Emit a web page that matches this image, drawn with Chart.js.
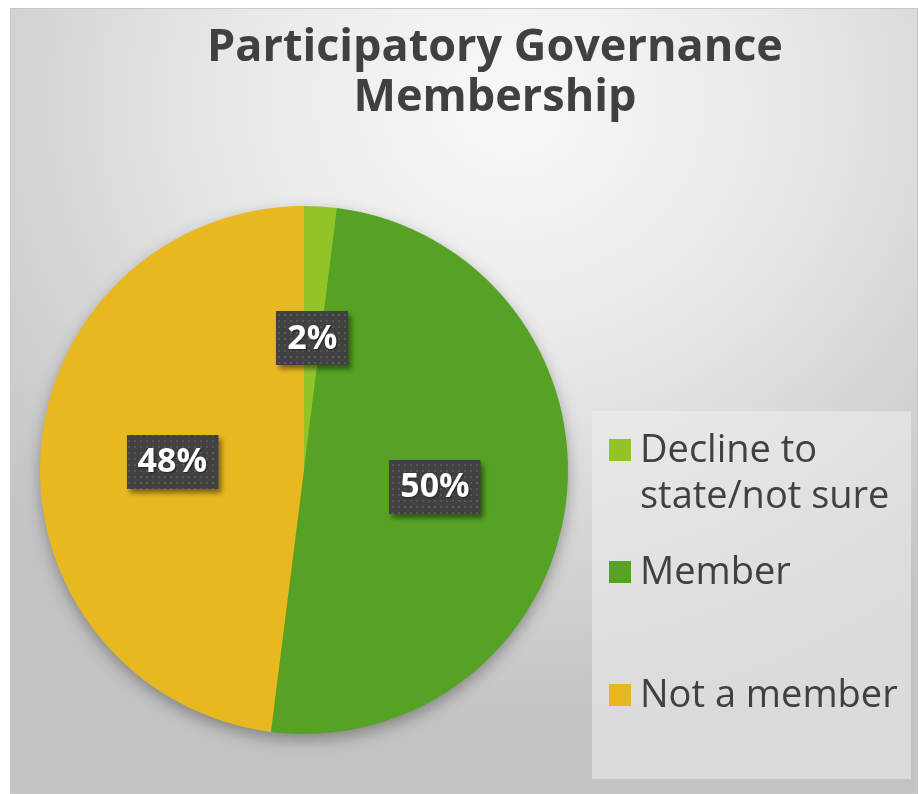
<!DOCTYPE html>
<html>
<head>
<meta charset="utf-8">
<script src="https://cdn.jsdelivr.net/npm/chart.js@4.4.1/dist/chart.umd.min.js"></script>
<style>
  html, body { margin: 0; padding: 0; background: #fff; }
  body { width: 919px; height: 794px; position: relative; overflow: hidden; font-family: "Open Sans", sans-serif; }
  .frame {
    position: absolute; left: 10px; top: 8px; width: 906px; height: 784px;
    border: 1px solid #c9c9c9;
    background: radial-gradient(ellipse 75% 80% at 55% 12%, #f8f8f8 0%, #e9e9e9 40%, #d2d2d2 75%, #c3c3c3 100%);
  }
  #chart { position: absolute; left: 0; top: 0; }
  .title {
    position: absolute; left: 145px; top: 19px; width: 700px;
    text-align: center; color: #404040; font-weight: 700;
    font-size: 45px; line-height: 50px; white-space: nowrap;
  }
  .legend {
    position: absolute; left: 592px; top: 411px; width: 319px; height: 368px;
    background: rgba(238, 238, 238, 0.55);
  }
  .legend-item { position: absolute; left: 17px; color: #404040; font-size: 38px; line-height: 46px; }
  .legend-item i { position: absolute; left: 0; top: 15px; width: 22px; height: 22px; }
  .legend-item span { display: block; margin-left: 31px; white-space: nowrap; }
</style>
</head>
<body>
<div class="frame"></div>
<canvas id="chart" width="919" height="794"></canvas>
<div class="title">Participatory Governance<br>Membership</div>
<div class="legend" id="legend"></div>
<script>
const labels = ["Decline to state/not sure", "Member", "Not a member"];
const legendLines = [["Decline to", "state/not sure"], ["Member"], ["Not a member"]];
const shares = [2, 50, 48];
const colors = ["#93c427", "#55a224", "#e7b820"];

const legendTops = [13, 135, 258];

function buildLegend() {
  const box = document.getElementById("legend");
  box.innerHTML = labels.map((label, i) => `
    <div class="legend-item" style="top:${legendTops[i]}px">
      <i style="background:${colors[i]}"></i>
      <span>${legendLines[i].join("<br>")}</span>
    </div>
  `).join("");
}

function dotPattern(ctx) {
  const tile = document.createElement("canvas");
  tile.width = 6;
  tile.height = 6;
  const t = tile.getContext("2d");
  t.fillStyle = "#414141";
  t.fillRect(0, 0, 6, 6);
  t.fillStyle = "#575757";
  t.fillRect(2, 2, 2, 2);
  return ctx.createPattern(tile, "repeat");
}

const pieShadow = {
  id: "pieShadow",
  beforeDatasetsDraw(chart) {
    const arc = chart.getDatasetMeta(0).data[0];
    if (!arc) return;
    const ctx = chart.ctx;
    ctx.save();
    ctx.shadowColor = "rgba(0, 0, 0, 0.35)";
    ctx.shadowBlur = 16;
    ctx.shadowOffsetY = 6;
    ctx.fillStyle = colors[1];
    ctx.beginPath();
    ctx.arc(arc.x, arc.y, arc.outerRadius - 1, 0, Math.PI * 2);
    ctx.fill();
    ctx.restore();
  }
};

const percentLabels = {
  id: "percentLabels",
  afterDatasetsDraw(chart) {
    const ctx = chart.ctx;
    const pattern = dotPattern(ctx);
    const total = shares.reduce((a, b) => a + b, 0);
    chart.getDatasetMeta(0).data.forEach((arc, i) => {
      const pos = arc.tooltipPosition();
      const text = Math.round(shares[i] / total * 100) + "%";
      ctx.save();
      ctx.font = "bold 34px 'Open Sans'";
      const w = ctx.measureText(text).width + 22;
      const h = 54;
      const x = Math.round(pos.x - w / 2);
      const y = Math.round(pos.y - h / 2);
      ctx.shadowColor = "rgba(0, 0, 0, 0.45)";
      ctx.shadowBlur = 5;
      ctx.shadowOffsetX = 3;
      ctx.shadowOffsetY = 4;
      ctx.fillStyle = pattern;
      ctx.fillRect(x, y, w, h);
      ctx.shadowColor = "rgba(0, 0, 0, 0.5)";
      ctx.shadowBlur = 2;
      ctx.shadowOffsetX = 1;
      ctx.shadowOffsetY = 1;
      ctx.fillStyle = "#ffffff";
      ctx.textAlign = "center";
      ctx.textBaseline = "middle";
      ctx.fillText(text, pos.x, pos.y + 1);
      ctx.restore();
    });
  }
};

buildLegend();

new Chart(document.getElementById("chart"), {
  type: "pie",
  data: {
    labels: labels,
    datasets: [{
      data: shares,
      backgroundColor: colors,
      borderWidth: 0
    }]
  },
  options: {
    responsive: false,
    animation: false,
    layout: { padding: { left: 40, right: 351, top: 206, bottom: 60 } },
    plugins: {
      legend: { display: false },
      title: { display: false },
      tooltip: { enabled: false }
    }
  },
  plugins: [pieShadow, percentLabels]
});
</script>
</body>
</html>
